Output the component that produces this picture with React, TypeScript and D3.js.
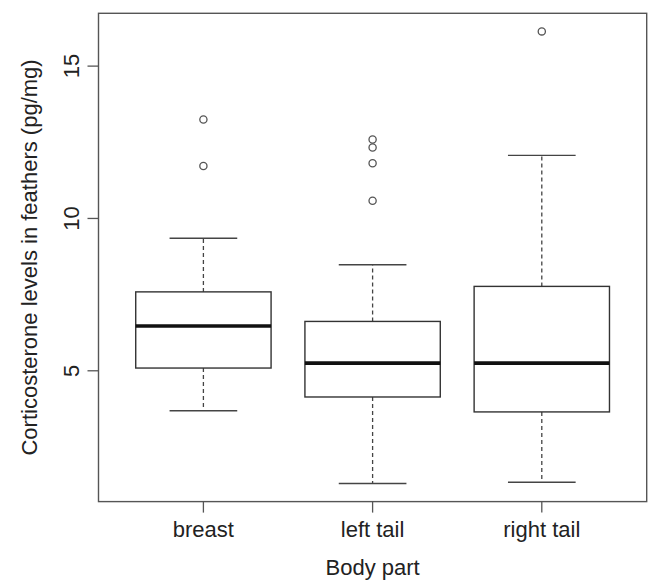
import React from "react";
import * as d3 from "d3";

const categories = ["breast", "left tail", "right tail"];
const lowerWhisker = [3.69, 1.30, 1.34];
const q1 = [5.09, 4.14, 3.65];
const medians = [6.47, 5.25, 5.25];
const q3 = [7.59, 6.62, 7.77];
const upperWhisker = [9.35, 8.48, 12.07];
const outliers = [
  [11.72, 13.25],
  [10.58, 11.81, 12.33, 12.59],
  [16.14],
];
const yTicks = [5, 10, 15];
const xLabel = "Body part";
const yLabel = "Corticosterone levels in feathers (pg/mg)";

const W = 648;
const H = 584;
const FONT = "'Liberation Sans', Arial, Helvetica, sans-serif";

export default function App() {
  const n = categories.length;
  const left = 98.5, right = 646.7, top = 13.3, bottom = 501.6;
  // R-style limits: data range extended by 4%
  const allVals = [...lowerWhisker, ...upperWhisker, ...outliers.flat()];
  const yMin = d3.min(allVals) as number;
  const yMax = d3.max(allVals) as number;
  const yPad = (yMax - yMin) * 0.04;
  const y = d3.scaleLinear().domain([yMin - yPad, yMax + yPad]).range([bottom, top]);
  const xPad = n * 0.04;
  const x = d3.scaleLinear().domain([0.5 - xPad, n + 0.5 + xPad]).range([left, right]);
  const boxHalf = 0.4;
  const stapleHalf = 0.2;
  const lineCol = "#333";

  return (
    <svg
      width={W}
      height={H}
      style={{ position: "absolute", left: 0, top: 0, background: "#fff" }}
      fontFamily={FONT}
    >
      {/* frame */}
      <rect x={left} y={top} width={right - left} height={bottom - top} fill="none" stroke="#555" strokeWidth={1.4} />

      {categories.map((c, i) => {
        const cx = x(i + 1);
        const x0 = x(i + 1 - boxHalf);
        const x1 = x(i + 1 + boxHalf);
        const s0 = x(i + 1 - stapleHalf);
        const s1 = x(i + 1 + stapleHalf);
        return (
          <g key={c}>
            {/* whiskers */}
            <line x1={cx} x2={cx} y1={y(q3[i])} y2={y(upperWhisker[i])} stroke="#444" strokeWidth={1.3} strokeDasharray="4,3" />
            <line x1={cx} x2={cx} y1={y(q1[i])} y2={y(lowerWhisker[i])} stroke="#444" strokeWidth={1.3} strokeDasharray="4,3" />
            <line x1={s0} x2={s1} y1={y(upperWhisker[i])} y2={y(upperWhisker[i])} stroke="#444" strokeWidth={1.4} />
            <line x1={s0} x2={s1} y1={y(lowerWhisker[i])} y2={y(lowerWhisker[i])} stroke="#444" strokeWidth={1.4} />
            {/* box */}
            <rect x={x0} y={y(q3[i])} width={x1 - x0} height={y(q1[i]) - y(q3[i])} fill="#fff" stroke={lineCol} strokeWidth={1.4} />
            <line x1={x0} x2={x1} y1={y(medians[i])} y2={y(medians[i])} stroke="#111" strokeWidth={3.6} />
            {/* outliers */}
            {outliers[i].map((v, j) => (
              <circle key={j} cx={cx} cy={y(v)} r={3.6} fill="none" stroke="#555" strokeWidth={1.3} />
            ))}
            {/* x tick */}
            <line x1={cx} x2={cx} y1={bottom} y2={bottom + 11} stroke="#555" strokeWidth={1.3} />
            <text x={cx} y={537} textAnchor="middle" fontSize={22} fill="#222">{c}</text>
          </g>
        );
      })}

      {/* y ticks */}
      {yTicks.map((t) => (
        <g key={t}>
          <line x1={left - 11} x2={left} y1={y(t)} y2={y(t)} stroke="#555" strokeWidth={1.3} />
          <text
            transform={`translate(79,${y(t)}) rotate(-90)`}
            textAnchor="middle"
            fontSize={22}
            fill="#222"
          >
            {t}
          </text>
        </g>
      ))}

      <text x={(left + right) / 2} y={575} textAnchor="middle" fontSize={22} fill="#222">{xLabel}</text>
      <text
        transform={`translate(37,${(top + bottom) / 2}) rotate(-90)`}
        textAnchor="middle"
        fontSize={22}
        fill="#222"
      >
        {yLabel}
      </text>
    </svg>
  );
}
